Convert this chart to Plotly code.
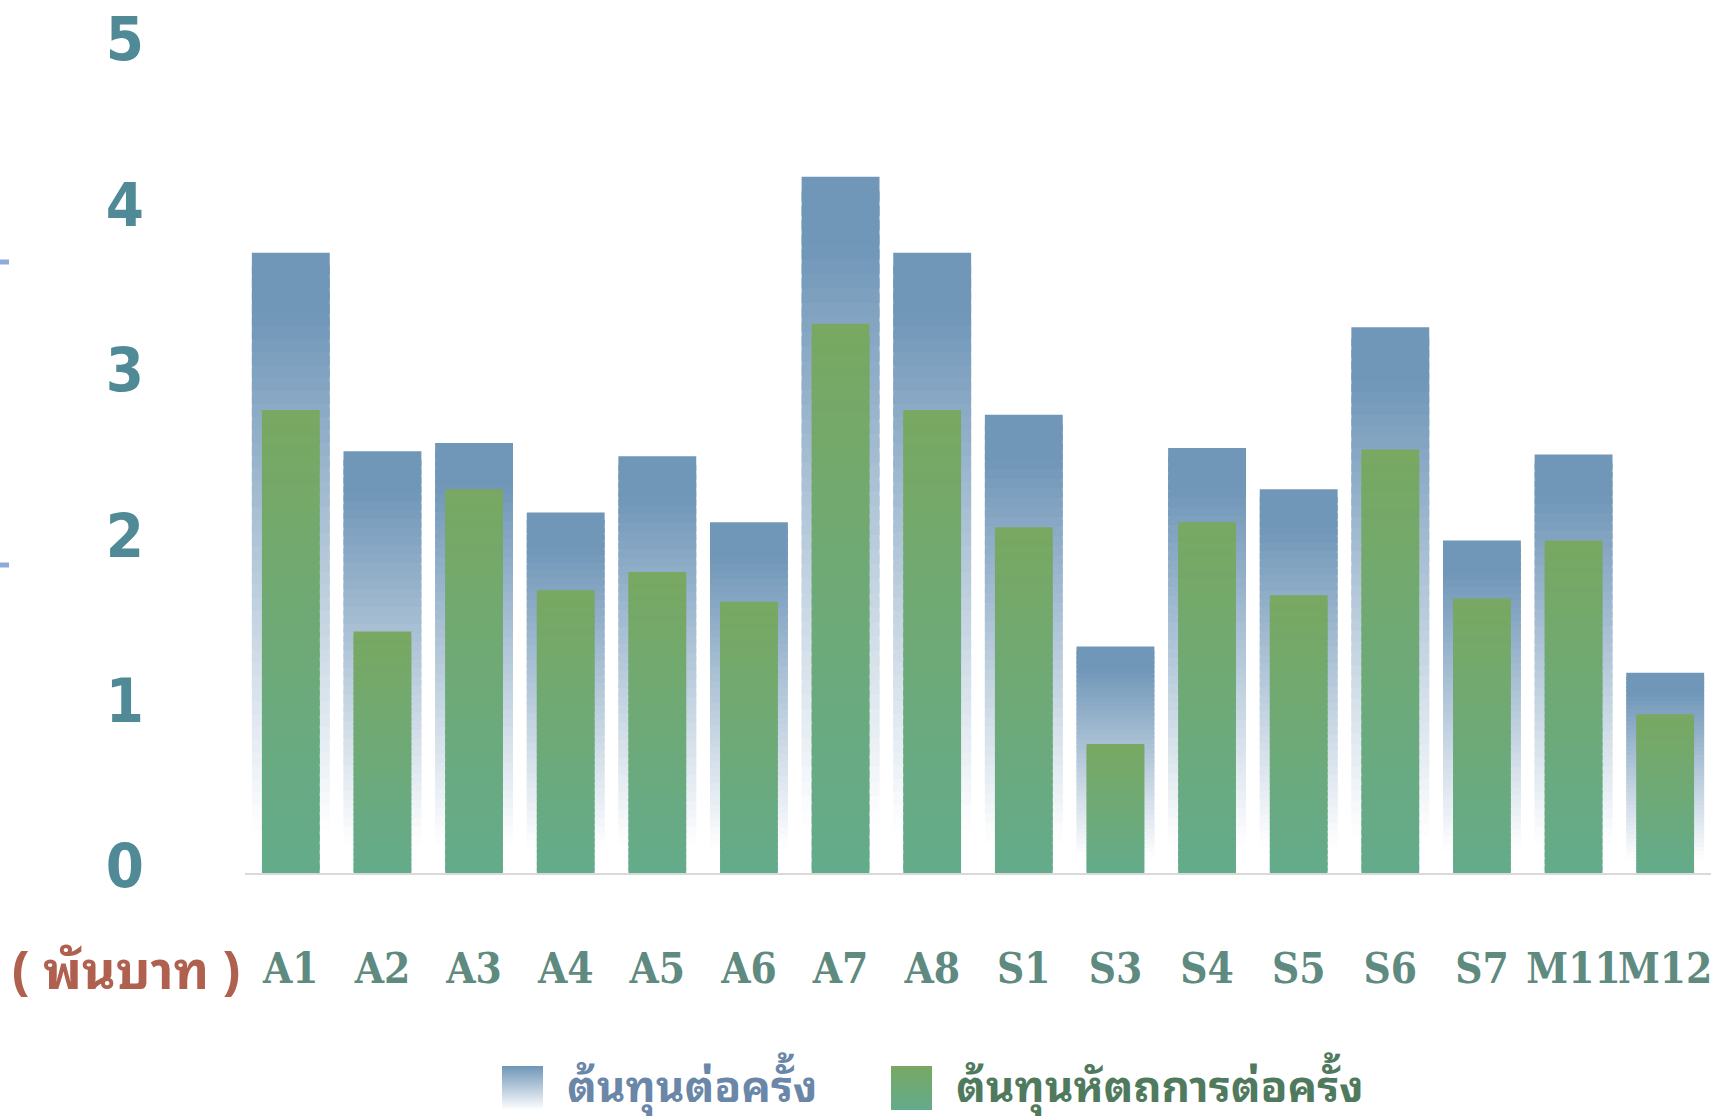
import base64
import plotly.graph_objects as go

# ---------------- data ----------------
categories = ["A1", "A2", "A3", "A4", "A5", "A6", "A7", "A8",
              "S1", "S3", "S4", "S5", "S6", "S7", "M11", "M12"]
cost_per_visit = [3.75, 2.55, 2.60, 2.18, 2.52, 2.12, 4.21, 3.75,
                  2.77, 1.37, 2.57, 2.32, 3.30, 2.01, 2.53, 1.21]
procedure_cost = [2.80, 1.46, 2.32, 1.71, 1.82, 1.64, 3.32, 2.80,
                  2.09, 0.78, 2.12, 1.68, 2.56, 1.66, 2.01, 0.96]
y_tick_values = [0, 1, 2, 3, 4, 5]
series_names = ["ต้นทุนต่อครั้ง", "ต้นทุนหัตถการต่อครั้ง"]
unit_label = "( พันบาท )"

# ---------------- style ----------------
W, H = 1714, 1117
M_L, M_R, M_T, M_B = 245, 3, 46, 244
PLOT_W = W - M_L - M_R
PLOT_H = H - M_T - M_B

BLUE_TOP = (0x70, 0x96, 0xB8)
WHITE = (0xFF, 0xFF, 0xFF)
GREEN_TOP = (0x78, 0xA8, 0x62)
GREEN_BOT = (0x63, 0xAB, 0x8C)
N_SEG = 48
OVERLAP = 0.7  # each slice reaches down into the one below to hide seams

THAI_FONT = "Noto Sans Thai Looped, Noto Sans Thai, Tahoma, Noto Sans, sans-serif"


def mix(c1, c2, s):
    s = max(0.0, min(1.0, s))
    return "rgb(%d,%d,%d)" % tuple(round(a + (b - a) * s) for a, b in zip(c1, c2))


def blue_at(t):  # t: 0 bottom .. 1 top of bar
    d = 1 - t
    return mix(BLUE_TOP, WHITE, (d - 0.08) / 0.84)


def green_at(t):
    return mix(GREEN_BOT, GREEN_TOP, t)


def px_x(px):
    return (px - M_L) / PLOT_W


def px_y(py):
    return (H - M_B - py) / PLOT_H


fig = go.Figure()

# gradient bars built from stacked slices of each bar
for series, width, color_fn in ((cost_per_visit, 0.85, blue_at),
                                (procedure_cost, 0.63, green_at)):
    for k in range(N_SEG):
        lo = max(0.0, k - OVERLAP) / N_SEG
        hi = (k + 1) / N_SEG
        fig.add_trace(go.Bar(
            x=categories,
            y=[v * (hi - lo) for v in series],
            base=[v * lo for v in series],
            width=width,
            marker=dict(color=color_fn((k + 0.5) / N_SEG), line=dict(width=0)),
            showlegend=False,
            hoverinfo="skip",
        ))

fig.update_layout(
    width=W, height=H,
    margin=dict(l=M_L, r=M_R, t=M_T, b=M_B, autoexpand=False),
    barmode="overlay",
    plot_bgcolor="white", paper_bgcolor="white",
    showlegend=False,
    xaxis=dict(
        type="category", showgrid=False, zeroline=False,
        showline=True, linecolor="#d9d9d9", linewidth=2,
        ticks="", tickangle=0, ticklabelstandoff=58, automargin=False,
        tickfont=dict(family="DejaVu Serif Condensed, DejaVu Serif, serif",
                      size=42, color="#5e8a80", weight="bold"),
    ),
    yaxis=dict(
        range=[0, 5], tickvals=y_tick_values, showgrid=False, zeroline=False,
        showline=False, ticks="", ticklabelstandoff=100, ticklabelshift=-7,
        automargin=False,
        tickfont=dict(family="Liberation Sans Narrow, Arial Narrow, DejaVu Sans Condensed, sans-serif",
                      size=61, color="#4f8a96", weight="bold"),
    ),
)

# unit label
fig.add_annotation(
    text=unit_label, xref="paper", yref="paper",
    x=px_x(126), y=px_y(966), xanchor="center", yanchor="middle",
    showarrow=False,
    font=dict(family=THAI_FONT, size=52, color="#b0604f", weight="bold"),
)


def grad_svg(top, bottom):
    svg = ("<svg xmlns='http://www.w3.org/2000/svg' width='40' height='44' preserveAspectRatio='none'>"
           "<defs><linearGradient id='g' x1='0' y1='0' x2='0' y2='1'>"
           "<stop offset='0' stop-color='%s'/><stop offset='1' stop-color='%s'/>"
           "</linearGradient></defs><rect width='40' height='44' fill='url(#g)'/></svg>"
           % (top, bottom))
    return "data:image/svg+xml;base64," + base64.b64encode(svg.encode()).decode()


legend_items = [
    (series_names[0], grad_svg("#7096b8", "#ffffff"), 502, 565, "#6a86a8"),
    (series_names[1], grad_svg("#78a862", "#63ab8c"), 891, 954, "#4f7a5e"),
]
for name, src, sx, tx, tcol in legend_items:
    fig.add_layout_image(dict(
        source=src, xref="paper", yref="paper",
        x=px_x(sx), y=px_y(1066), sizex=41 / PLOT_W, sizey=44 / PLOT_H,
        xanchor="left", yanchor="top", sizing="stretch", layer="above",
    ))
    fig.add_annotation(
        text=name, xref="paper", yref="paper",
        x=px_x(tx), y=px_y(1082), xanchor="left", yanchor="middle",
        showarrow=False,
        font=dict(family=THAI_FONT, size=44, color=tcol, weight="bold"),
    )

# small stray marks at left edge
for py in (262, 565):
    fig.add_shape(type="line", xref="paper", yref="paper",
                  x0=px_x(0), x1=px_x(9), y0=px_y(py), y1=px_y(py),
                  line=dict(color="#8eaadb", width=5))

fig.write_html("out.html", include_plotlyjs=True,
               config={"displayModeBar": False},
               post_script="document.body.style.margin='0';document.body.style.overflow='hidden';")
